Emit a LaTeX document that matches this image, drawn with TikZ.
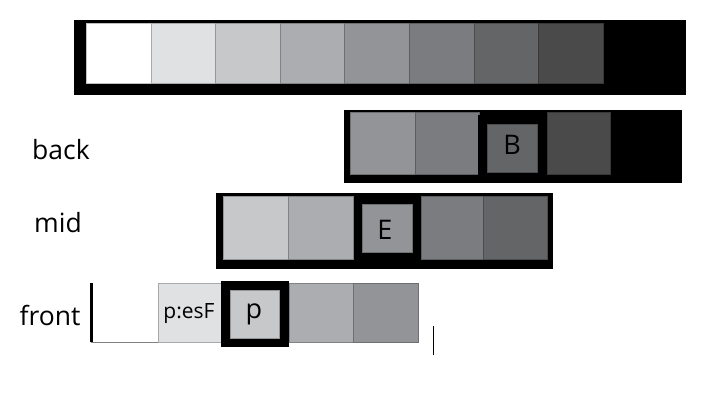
\documentclass[tikz,border=0pt]{standalone}
\usepackage{fontspec}
\setmainfont{Open Sans}
\definecolor{g0}{HTML}{FFFFFF}
\definecolor{g1}{HTML}{E0E1E3}
\definecolor{g2}{HTML}{C7C8CA}
\definecolor{g3}{HTML}{ACADB0}
\definecolor{g4}{HTML}{939497}
\definecolor{g5}{HTML}{7B7C80}
\definecolor{g6}{HTML}{646567}
\definecolor{g7}{HTML}{4A4A4B}
\tikzset{
  bar/.style={fill=black, draw=none, inner sep=0pt, anchor=north west},
  cell/.style={fill=#1, draw=#1!75!black, line width=0.8pt, inner sep=0pt, anchor=north west},
  lbl/.style={font=\fontsize{26.5}{30}\selectfont, inner sep=0pt, anchor=base},
  smalltxt/.style={font=\fontsize{21}{24}\selectfont, inner sep=0pt, anchor=base},
  letterlbl/.style={font=\fontsize{27}{30}\selectfont, inner sep=0pt, anchor=base}
}
\begin{document}
\begin{tikzpicture}[x=1pt,y=-1pt]
\useasboundingbox (0,0) rectangle (719,414);
% top strip
\node[bar, minimum width=612pt, minimum height=75pt] (topbar) at (74,20) {};
\foreach \i/\c in {0/g0,1/g1,2/g2,3/g3,4/g4,5/g5,6/g6,7/g7}{
  \node[cell=\c, minimum width=64.6pt, minimum height=60pt] (t\i) at (86+64.6*\i,23) {};
}
% back
\node[lbl] (lback) at (61,160) {back};
\node[bar, minimum width=338pt, minimum height=73pt] (backbar) at (344,110) {};
\node[cell=g4, minimum width=65pt, minimum height=62pt] (b1) at (350,112) {};
\node[cell=g5, minimum width=64pt, minimum height=62pt] (b2) at (415,112) {};
\node[bar, minimum width=68pt, minimum height=68pt] (bframe) at (478,115) {};
\node[cell=g6, minimum width=50pt, minimum height=48pt] (b3) at (487,124) {};
\node[letterlbl] (bl) at (512,154) {B};
\node[cell=g7, minimum width=63pt, minimum height=62pt] (b4) at (547,112) {};
% mid
\node[lbl] (lmid) at (58,232) {mid};
\node[bar, minimum width=337pt, minimum height=76pt] (midbar) at (216,193) {};
\node[cell=g2, minimum width=65pt, minimum height=63pt] (m1) at (223,196) {};
\node[cell=g3, minimum width=65pt, minimum height=63pt] (m2) at (288,196) {};
\node[cell=g4, minimum width=50pt, minimum height=48pt] (m3) at (362,204) {};
\node[letterlbl] (ml) at (385,239) {E};
\node[cell=g5, minimum width=62pt, minimum height=63pt] (m4) at (421,196) {};
\node[cell=g6, minimum width=64pt, minimum height=63pt] (m5) at (483,196) {};
% front
\node[lbl] (lfront) at (50,325) {front};
\node[fill=white, inner sep=0pt, anchor=north west, minimum width=67pt, minimum height=59pt] (f0) at (91,283) {};
\draw[draw=gray, line width=0.8pt] (f0.south west) -- (f0.south east);
\draw[line width=3pt] (f0.north west) -- (f0.south west);
\node[cell=g1, minimum width=63pt, minimum height=59pt] (f1) at (158,283) {};
\node[smalltxt] (fl1) at (189,318) {p:esF};
\node[bar, minimum width=68pt, minimum height=66pt] (fframe) at (221,281) {};
\node[cell=g2, minimum width=49pt, minimum height=48pt] (f2) at (230,290) {};
\node[letterlbl] (fl2) at (254,318) {p};
\node[cell=g3, minimum width=64pt, minimum height=59pt] (f3) at (289,283) {};
\node[cell=g4, minimum width=65pt, minimum height=59pt] (f4) at (353,283) {};
\coordinate (c1) at (433,326);
\coordinate (c2) at (433,355);
\draw[line width=1pt] (c1) -- (c2);
\end{tikzpicture}
\end{document}
